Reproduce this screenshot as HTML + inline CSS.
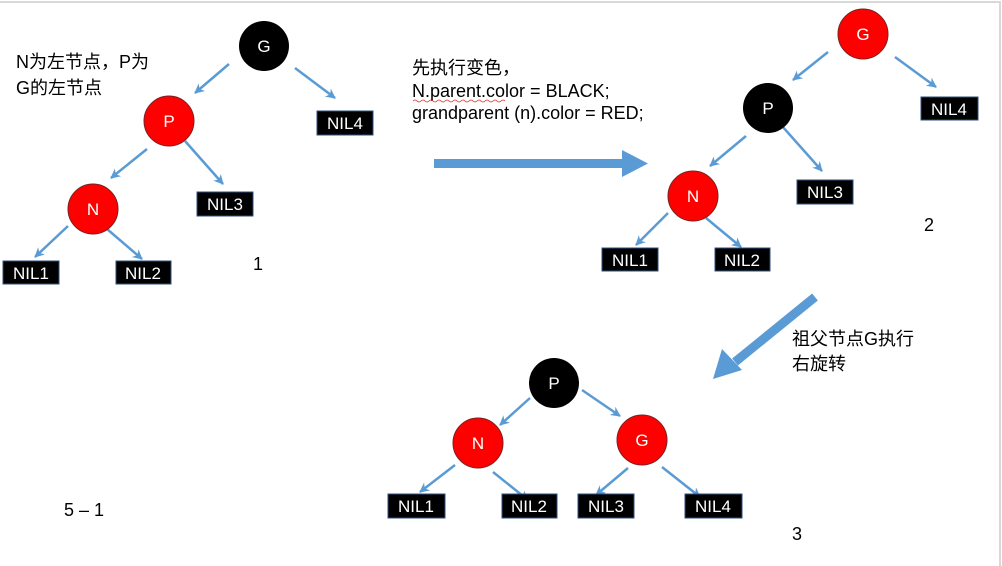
<!DOCTYPE html>
<html><head><meta charset="utf-8"><style>
html,body{margin:0;padding:0;background:#fff;}
svg{display:block;}
text{font-family:"Liberation Sans","Noto Sans CJK SC",sans-serif;}
</style></head><body>
<svg width="1002" height="566" viewBox="0 0 1002 566" xmlns="http://www.w3.org/2000/svg">
<defs>
<marker id="a" markerWidth="12" markerHeight="12" refX="9" refY="6" orient="auto" markerUnits="userSpaceOnUse">
<path d="M0,1 L10,6 L0,11 L3,6 Z" fill="#5b9bd5"/>
</marker>
</defs>
<line x1="0" y1="2" x2="1001" y2="2" stroke="#d8d8d8" stroke-width="2"/>
<line x1="1000" y1="2" x2="1000" y2="566" stroke="#d8d8d8" stroke-width="2"/>
<g stroke="#5b9bd5" stroke-width="2.5" marker-end="url(#a)" fill="none">
<line x1="229" y1="64" x2="195" y2="93"/>
<line x1="295" y1="68" x2="335" y2="98"/>
<line x1="147" y1="149" x2="111" y2="178"/>
<line x1="185" y1="141" x2="223" y2="184"/>
<line x1="68" y1="226" x2="35" y2="257"/>
<line x1="107" y1="229" x2="142" y2="259"/>
<line x1="828" y1="52" x2="793" y2="80"/>
<line x1="895" y1="57" x2="936" y2="87"/>
<line x1="746" y1="136" x2="710" y2="166"/>
<line x1="782" y1="126" x2="822" y2="171"/>
<line x1="668" y1="213" x2="636" y2="245"/>
<line x1="706" y1="218" x2="741" y2="247"/>
<line x1="530" y1="398" x2="500" y2="425"/>
<line x1="582" y1="390" x2="620" y2="416"/>
<line x1="455" y1="465" x2="420" y2="492"/>
<line x1="493" y1="472" x2="528" y2="500"/>
<line x1="628" y1="468" x2="596" y2="495"/>
<line x1="662" y1="467" x2="700" y2="497"/>
</g>
<rect x="434" y="159" width="190" height="9" fill="#5b9bd5"/>
<polygon points="622,150 648,163.5 622,177" fill="#5b9bd5"/>
<line x1="815" y1="297" x2="735" y2="362" stroke="#5b9bd5" stroke-width="9"/>
<polygon points="713,379 722,349 742,370" fill="#5b9bd5"/>
<g font-size="17" text-anchor="middle" fill="#fff">
<circle cx="264" cy="46" r="25" fill="#000"/><text x="264" y="52">G</text>
<circle cx="169" cy="121" r="25" fill="#f00" stroke="#7a2020"/><text x="169" y="127">P</text>
<circle cx="93" cy="209" r="25" fill="#f00" stroke="#7a2020"/><text x="93" y="215">N</text>
<circle cx="863" cy="34" r="25" fill="#f00" stroke="#7a2020"/><text x="863" y="40">G</text>
<circle cx="768" cy="108" r="25" fill="#000"/><text x="768" y="114">P</text>
<circle cx="693" cy="196" r="25" fill="#f00" stroke="#7a2020"/><text x="693" y="202">N</text>
<circle cx="554" cy="383" r="25" fill="#000"/><text x="554" y="389">P</text>
<circle cx="478" cy="443" r="25" fill="#f00" stroke="#7a2020"/><text x="478" y="449">N</text>
<circle cx="642" cy="440" r="25" fill="#f00" stroke="#7a2020"/><text x="642" y="446">G</text>
</g>
<g font-size="17" text-anchor="middle" fill="#fff">
<rect x="317" y="111" width="56" height="24" fill="#000" stroke="#2f4f7f"/><text x="345" y="129">NIL4</text>
<rect x="197" y="192" width="56" height="24" fill="#000" stroke="#2f4f7f"/><text x="225" y="210">NIL3</text>
<rect x="3" y="261" width="56" height="23" fill="#000" stroke="#2f4f7f"/><text x="31" y="279">NIL1</text>
<rect x="116" y="261" width="55" height="23" fill="#000" stroke="#2f4f7f"/><text x="143" y="279">NIL2</text>
<rect x="921" y="97" width="57" height="23" fill="#000" stroke="#2f4f7f"/><text x="949" y="115">NIL4</text>
<rect x="797" y="180" width="56" height="24" fill="#000" stroke="#2f4f7f"/><text x="825" y="198">NIL3</text>
<rect x="602" y="248" width="56" height="23" fill="#000" stroke="#2f4f7f"/><text x="630" y="266">NIL1</text>
<rect x="715" y="248" width="55" height="23" fill="#000" stroke="#2f4f7f"/><text x="742" y="266">NIL2</text>
<rect x="388" y="494" width="57" height="24" fill="#000" stroke="#2f4f7f"/><text x="416" y="512">NIL1</text>
<rect x="502" y="494" width="55" height="24" fill="#000" stroke="#2f4f7f"/><text x="529" y="512">NIL2</text>
<rect x="578" y="494" width="56" height="24" fill="#000" stroke="#2f4f7f"/><text x="606" y="512">NIL3</text>
<rect x="685" y="494" width="57" height="24" fill="#000" stroke="#2f4f7f"/><text x="713" y="512">NIL4</text>
</g>
<g font-size="18" fill="#000">
<text x="16" y="68">N为左节点，P为</text>
<text x="16" y="94">G的左节点</text>
<text x="253" y="270">1</text>
<text x="924" y="231">2</text>
<text x="792" y="540">3</text>
<text x="64" y="516">5 – 1</text>
<text x="412" y="74">先执行变色，</text>
<text x="412" y="97">N.parent.color = BLACK;</text>
<text x="412" y="119">grandparent (n).color = RED;</text>
<text x="792" y="345">祖父节点G执行</text>
<text x="792" y="370">右旋转</text>
</g>
<path d="M413,101 q2,-2 4,0 t4,0 t4,0 t4,0 t4,0 t4,0 t4,0 t4,0 t4,0 t4,0 t4,0 t4,0 t4,0 t4,0 t4,0 t4,0 t4,0 t4,0 t4,0 t4,0 t4,0 t4,0 t4,0" fill="none" stroke="#e03030" stroke-width="0.8"/>
</svg>
</body></html>
